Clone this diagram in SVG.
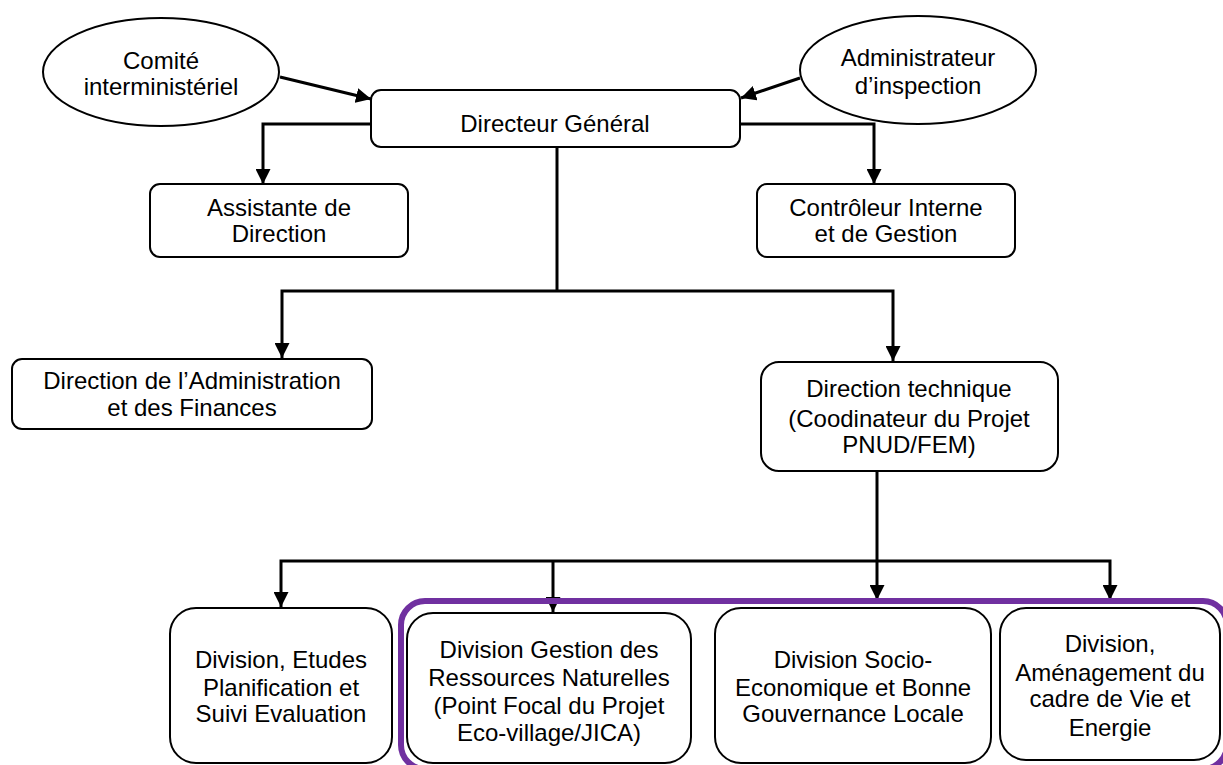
<svg xmlns="http://www.w3.org/2000/svg" width="1223" height="765" viewBox="0 0 1223 765">
  <defs>
    <marker id="arrow" viewBox="0 0 10 10" refX="10" refY="5" markerWidth="5" markerHeight="5" orient="auto" markerUnits="strokeWidth">
      <path d="M0,0 L10,5 L0,10 Z" fill="#000"/>
    </marker>
    <style>
      .node { fill: #fff; stroke: #000; stroke-width: 2; }
      .lbl { font-family: "Liberation Sans", Arial, sans-serif; font-size: 24px; fill: #000; text-anchor: middle; }
      .conn { fill: none; stroke: #000; stroke-width: 3; }
      .arr { marker-end: url(#arrow); }
      .frame { fill: none; stroke: #7030A0; stroke-width: 6; }
    </style>
  </defs>
  <rect width="1223" height="765" fill="#fff"/>

  <g id="connectors">
    <line class="conn arr" x1="280" y1="77" x2="371" y2="99"/>
    <line class="conn arr" x1="800" y1="78" x2="741" y2="98"/>
    <polyline class="conn arr" points="371,124 263,124 263,184"/>
    <polyline class="conn arr" points="740,124 874,124 874,184"/>
    <line class="conn" x1="557" y1="147" x2="557" y2="291"/>
    <polyline class="conn arr" points="557,291 282,291 282,358"/>
    <polyline class="conn arr" points="557,291 893,291 893,361"/>
    <line class="conn" x1="877" y1="471" x2="877" y2="561"/>
    <polyline class="conn arr" points="877,561 281,561 281,607"/>
    <line class="conn arr" x1="553" y1="561" x2="553" y2="612"/>
    <line class="conn arr" x1="877" y1="561" x2="877" y2="600"/>
    <polyline class="conn arr" points="877,561 1110,561 1110,600"/>
  </g>

  <!-- highlight frame around the three technical divisions, drawn over the arrowheads -->
  <rect class="frame" x="401" y="601" width="826" height="168" rx="24"/>

  <g id="comite">
    <ellipse class="node" cx="161" cy="72" rx="118" ry="54"/>
    <text class="lbl" x="161" y="69">Comité</text>
    <text class="lbl" x="161" y="95">interministériel</text>
  </g>

  <g id="administrateur">
    <ellipse class="node" cx="918" cy="70" rx="118" ry="54"/>
    <text class="lbl" x="918" y="66">Administrateur</text>
    <text class="lbl" x="918" y="94">d’inspection</text>
  </g>

  <g id="directeur-general">
    <rect class="node" x="371" y="90" width="369" height="57" rx="10"/>
    <text class="lbl" x="555" y="132">Directeur Général</text>
  </g>

  <g id="assistante">
    <rect class="node" x="150" y="184" width="258" height="73" rx="10"/>
    <text class="lbl" x="279" y="216">Assistante de</text>
    <text class="lbl" x="279" y="242">Direction</text>
  </g>

  <g id="controleur">
    <rect class="node" x="757" y="184" width="258" height="73" rx="10"/>
    <text class="lbl" x="886" y="216">Contrôleur Interne</text>
    <text class="lbl" x="886" y="242">et de Gestion</text>
  </g>

  <g id="daf">
    <rect class="node" x="12" y="359" width="360" height="70" rx="10"/>
    <text class="lbl" x="192" y="389">Direction de l’Administration</text>
    <text class="lbl" x="192" y="416">et des Finances</text>
  </g>

  <g id="direction-technique">
    <rect class="node" x="761" y="362" width="297" height="109" rx="18"/>
    <text class="lbl" x="909" y="397">Direction technique</text>
    <text class="lbl" x="909" y="427">(Coodinateur du Projet</text>
    <text class="lbl" x="909" y="453">PNUD/FEM)</text>
  </g>

  <g id="div-etudes">
    <rect class="node" x="170" y="608" width="222" height="155" rx="26"/>
    <text class="lbl" x="281" y="668">Division, Etudes</text>
    <text class="lbl" x="281" y="696">Planification et</text>
    <text class="lbl" x="281" y="722">Suivi Evaluation</text>
  </g>

  <g id="div-gestion">
    <rect class="node" x="407" y="613" width="284" height="150" rx="26"/>
    <text class="lbl" x="549" y="658">Division Gestion des</text>
    <text class="lbl" x="549" y="686">Ressources Naturelles</text>
    <text class="lbl" x="549" y="714">(Point Focal du Projet</text>
    <text class="lbl" x="549" y="741">Eco-village/JICA)</text>
  </g>

  <g id="div-socio">
    <rect class="node" x="715" y="608" width="276" height="155" rx="26"/>
    <text class="lbl" x="853" y="668">Division Socio-</text>
    <text class="lbl" x="853" y="696">Economique et Bonne</text>
    <text class="lbl" x="853" y="722">Gouvernance Locale</text>
  </g>

  <g id="div-amenagement">
    <rect class="node" x="1000" y="608" width="220" height="152" rx="26"/>
    <text class="lbl" x="1110" y="652">Division,</text>
    <text class="lbl" x="1110" y="681">Aménagement du</text>
    <text class="lbl" x="1110" y="707">cadre de Vie et</text>
    <text class="lbl" x="1110" y="736">Energie</text>
  </g>
</svg>
